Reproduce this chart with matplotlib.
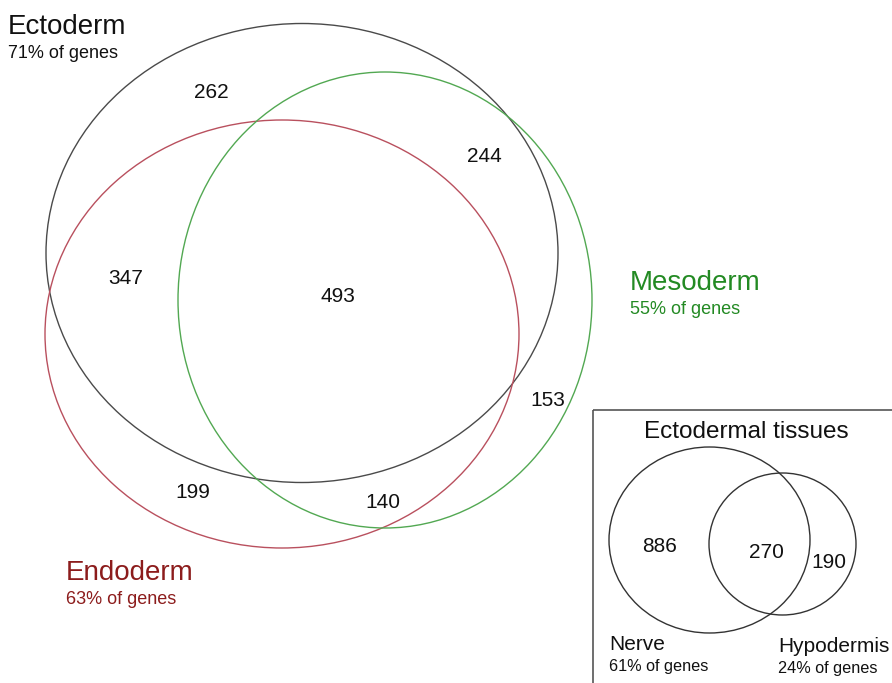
import matplotlib.pyplot as plt
from matplotlib.patches import Ellipse, Rectangle

plt.rcParams['font.family'] = ['Liberation Sans', 'DejaVu Sans']

# germ layer sets
layers = ['Ectoderm', 'Endoderm', 'Mesoderm']
layer_pct = [71, 63, 55]
# region counts
region_names = ['ecto_only', 'ecto_meso', 'ecto_endo', 'all', 'meso_only', 'endo_only', 'endo_meso']
region_counts = [262, 244, 347, 493, 153, 199, 140]

# ectodermal tissues inset
tissues = ['Nerve', 'Hypodermis']
tissue_pct = [61, 24]
tissue_counts = [886, 270, 190]

# layout (pixels, y down)
ell_geom = {'Ectoderm': (302, 253, 512, 459),
            'Endoderm': (282, 334, 474, 428),
            'Mesoderm': (385, 300, 414, 456)}
ell_color = {'Ectoderm': '#4a4a4a', 'Endoderm': '#b9505e', 'Mesoderm': '#52a852'}
lab_color = {'Ectoderm': '#111111', 'Endoderm': '#8c1c1c', 'Mesoderm': '#238a23'}
lab_pos = {'Ectoderm': (8, 27), 'Endoderm': (66, 573), 'Mesoderm': (630, 283)}
region_pos = [(211, 92), (484, 157), (126, 278), (338, 297), (548, 401), (193, 493), (383, 502)]

tis_geom = [(709.5, 540, 201, 186), (782.5, 544, 147, 142)]
tis_lab_pos = [(609, 645), (778, 647)]
tis_count_pos = [(660, 546), (766, 552), (829, 562)]

fig = plt.figure(figsize=(8.92, 6.83), dpi=100)
ax = fig.add_axes([0, 0, 1, 1])
ax.set_xlim(0, 892)
ax.set_ylim(683, 0)
ax.axis('off')

for name, pct in zip(layers, layer_pct):
    cx, cy, w, h = ell_geom[name]
    ax.add_patch(Ellipse((cx, cy), w, h, fill=False, ec=ell_color[name], lw=1.0))
    lx, ly = lab_pos[name]
    ax.text(lx, ly, name, fontsize=20, color=lab_color[name], ha='left', va='center')
    ax.text(lx, ly + 27, f'{pct}% of genes', fontsize=13, color=lab_color[name], ha='left', va='center')

for (x, y), c in zip(region_pos, region_counts):
    ax.text(x, y, str(c), fontsize=15, color='#111111', ha='center', va='center')

# inset box
ax.add_patch(Rectangle((593, 410), 320, 300, fill=False, ec='#555555', lw=1.2, clip_on=True))
ax.text(746, 432, 'Ectodermal tissues', fontsize=17.5, color='#111111', ha='center', va='center')
for (cx, cy, w, h) in tis_geom:
    ax.add_patch(Ellipse((cx, cy), w, h, fill=False, ec='#333333', lw=1.0))
for (x, y), c in zip(tis_count_pos, tissue_counts):
    ax.text(x, y, str(c), fontsize=15, color='#111111', ha='center', va='center')
for (x, y), name, pct in zip(tis_lab_pos, tissues, tissue_pct):
    ax.text(x, y, name, fontsize=15, color='#111111', ha='left', va='center')
    ax.text(x, y + 21, f'{pct}% of genes', fontsize=11.7, color='#111111', ha='left', va='center')

fig.savefig('out.png', dpi=100)
